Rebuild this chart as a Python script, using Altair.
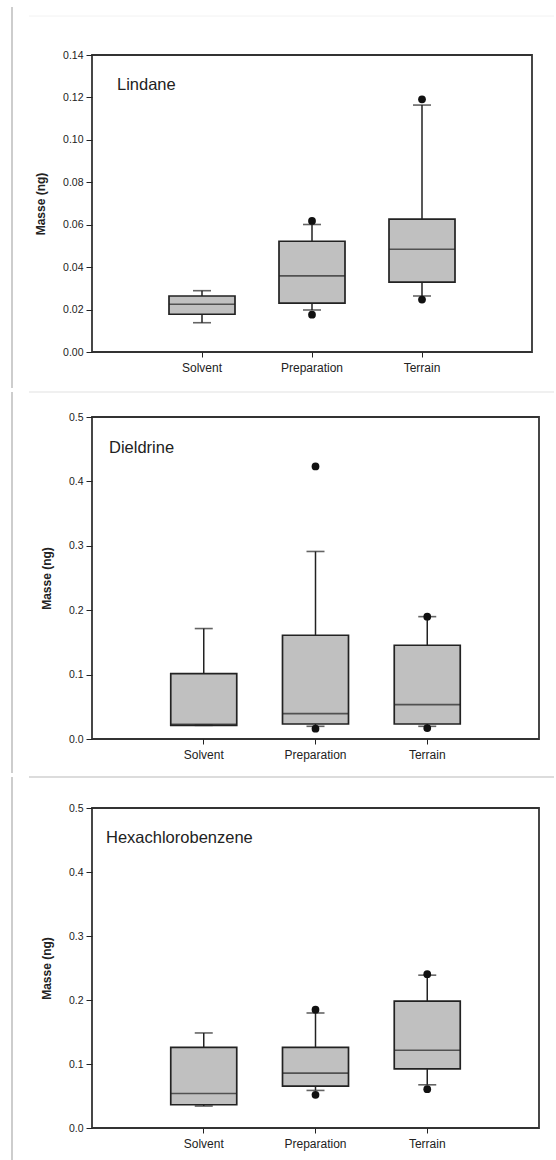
import altair as alt
import pandas as pd

CATEGORIES = ["Solvent", "Preparation", "Terrain"]

# Lindane (ng)
LINDANE_LOW = [0.0138, 0.0198, 0.0264]
LINDANE_Q1 = [0.0178, 0.0230, 0.0329]
LINDANE_MEDIAN = [0.0225, 0.0359, 0.0484]
LINDANE_Q3 = [0.0264, 0.0522, 0.0626]
LINDANE_HIGH = [0.0289, 0.0601, 0.1164]
LINDANE_OUT_CAT = ["Preparation", "Preparation", "Terrain", "Terrain"]
LINDANE_OUT_VAL = [0.0618, 0.0176, 0.1191, 0.0247]

# Dieldrine (ng)
DIELDRINE_LOW = [0.0212, 0.0197, 0.0197]
DIELDRINE_Q1 = [0.0212, 0.0233, 0.0233]
DIELDRINE_MEDIAN = [0.0228, 0.0394, 0.0534]
DIELDRINE_Q3 = [0.1016, 0.1611, 0.1456]
DIELDRINE_HIGH = [0.1715, 0.2912, 0.1900]
DIELDRINE_OUT_CAT = ["Preparation", "Preparation", "Terrain", "Terrain"]
DIELDRINE_OUT_VAL = [0.4233, 0.0160, 0.1900, 0.0170]

# Hexachlorobenzene (ng)
HCB_LOW = [0.0343, 0.0587, 0.0675]
HCB_Q1 = [0.0363, 0.0654, 0.0924]
HCB_MEDIAN = [0.0540, 0.0857, 0.1215]
HCB_Q3 = [0.1260, 0.1260, 0.1983]
HCB_HIGH = [0.1485, 0.1797, 0.2388]
HCB_OUT_CAT = ["Preparation", "Preparation", "Terrain", "Terrain"]
HCB_OUT_VAL = [0.1848, 0.0519, 0.2404, 0.0607]

FONT = "Liberation Sans"
INK = "#222222"
BOX_FILL = "#c0c0c0"
BOX_W = 66
CAP_W = 18


def panel(name, low, q1, med, q3, high, out_cat, out_val,
          ymax, ystep, fmt, width, height, name_xy, frame):
    """One box-plot panel.  `frame` = (top, bottom, sep_y, sep_color, sep_w):
    the page border and separator line, in pixels from the plot origin."""
    stats = pd.DataFrame({"category": CATEGORIES, "low": low, "q1": q1,
                          "median": med, "q3": q3, "high": high})
    outliers = pd.DataFrame({"category": out_cat, "value": out_val})
    one = pd.DataFrame({"k": [0]})

    n = int(round(ymax / ystep))
    ticks = [round(i * ystep, 4) for i in range(n + 1)]

    x = alt.X("category:N", sort=CATEGORIES, title=None,
              scale=alt.Scale(domain=CATEGORIES, paddingInner=0, paddingOuter=0.5),
              axis=alt.Axis(labelAngle=0, tickSize=5, labelPadding=5, domain=False,
                            tickColor=INK, labelFontSize=12, labelColor=INK))
    yscale = alt.Scale(domain=[0, ymax], nice=False, zero=True)
    yaxis = alt.Axis(values=ticks, format=fmt, title="Masse (ng)", grid=False,
                     domain=False, tickSize=6, labelPadding=3, tickColor=INK,
                     labelFontSize=10.5, labelColor=INK, titleFontSize=12,
                     titleFontWeight="bold", titleColor=INK, titlePadding=15)

    whisker = alt.Chart(stats).mark_rule(color=INK, strokeWidth=1.5).encode(
        x=x, y=alt.Y("low:Q", scale=yscale, axis=yaxis), y2="high:Q")
    box = alt.Chart(stats).mark_bar(size=BOX_W, fill=BOX_FILL, stroke=INK,
                                    strokeWidth=1.7).encode(
        x="category:N", y="q1:Q", y2="q3:Q")
    median = alt.Chart(stats).mark_tick(size=BOX_W, thickness=1.6, color=INK).encode(
        x="category:N", y="median:Q")
    caps = alt.Chart(stats).transform_fold(["low", "high"], as_=["end", "v"]).mark_tick(
        size=CAP_W, thickness=1.6, color=INK).encode(x="category:N", y="v:Q")
    dots = alt.Chart(outliers).mark_circle(size=60, color="#111111", opacity=1).encode(
        x="category:N", y="value:Q")
    label = alt.Chart(one).mark_text(align="left", baseline="alphabetic", font=FONT,
                                     fontSize=16.5, color=INK).encode(
        x=alt.value(name_xy[0]), y=alt.value(name_xy[1]), text=alt.value(name))

    top, bottom, sep_y, sep_color, sep_w = frame
    page_edge = alt.Chart(one).mark_rule(color="#bdbdbd", strokeWidth=1.5).encode(
        x=alt.value(-80), y=alt.value(top), y2=alt.value(bottom))
    separator = alt.Chart(one).mark_rule(color=sep_color, strokeWidth=sep_w).encode(
        x=alt.value(-63), x2=alt.value(462), y=alt.value(sep_y))

    return alt.layer(page_edge, separator, whisker, box, median, caps, dots, label).properties(
        width=width, height=height)


p1 = panel("Lindane", LINDANE_LOW, LINDANE_Q1, LINDANE_MEDIAN, LINDANE_Q3, LINDANE_HIGH,
           LINDANE_OUT_CAT, LINDANE_OUT_VAL, 0.14, 0.02, ".2f", 440, 297, (25, 35),
           (-48, 333, -39, "#f2f2f2", 1))
p2 = panel("Dieldrine", DIELDRINE_LOW, DIELDRINE_Q1, DIELDRINE_MEDIAN, DIELDRINE_Q3,
           DIELDRINE_HIGH, DIELDRINE_OUT_CAT, DIELDRINE_OUT_VAL, 0.5, 0.1, ".1f", 447, 322,
           (17, 36), (-25, 356, -25, "#ebebeb", 1.5))
p3 = panel("Hexachlorobenzene", HCB_LOW, HCB_Q1, HCB_MEDIAN, HCB_Q3, HCB_HIGH,
           HCB_OUT_CAT, HCB_OUT_VAL, 0.5, 0.1, ".1f", 447, 320,
           (14, 35), (-31, 352, -31, "#dcdcdc", 2))

chart = alt.vconcat(p1, p2, p3, spacing=0).properties(
    padding={"left": 10, "top": 5, "right": 0, "bottom": 0},
    background="white",
).configure_view(stroke="#333333", strokeWidth=1.8).configure_axis(
    labelFont=FONT, titleFont=FONT
).configure_concat(spacing=0)

chart.save("out.html", embed_options={"renderer": "svg", "actions": False})
